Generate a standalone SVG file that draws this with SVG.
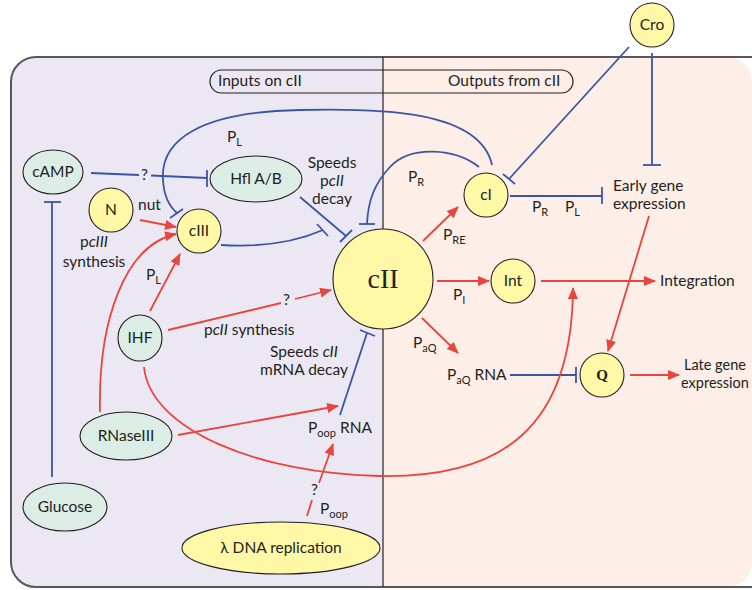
<svg xmlns="http://www.w3.org/2000/svg" width="752" height="590" viewBox="0 0 752 590">
<defs>
<marker id="ar" markerWidth="12" markerHeight="10" refX="11" refY="5" orient="auto" markerUnits="userSpaceOnUse">
<path d="M0,0 L12,5 L0,10 Z" fill="#E8453C"/>
</marker>
<style>
text{font-family:Lato,"Open Sans","Liberation Sans",sans-serif;font-size:15.5px;fill:#231f20}
.c{text-anchor:middle}
.sub{font-size:11px}
.red{stroke:#E8453C;stroke-width:1.8;fill:none}
.redA{stroke:#E8453C;stroke-width:1.8;fill:none;marker-end:url(#ar)}
.blue{stroke:#3A55A4;stroke-width:1.8;fill:none}
.yel{fill:#FFF8A6;stroke:#231f20;stroke-width:1.1}
.grn{fill:#DCEDE6;stroke:#231f20;stroke-width:1.1}
</style>
</defs>
<rect width="752" height="590" fill="#fff"/>
<g id="frame">
<path d="M383,57 H36 A25,25 0 0 0 11,82 V562 A25,25 0 0 0 36,587 H383 Z" fill="#ECE8F3"/>
<path d="M383,57 H727 A25,25 0 0 1 752,82 V562 A25,25 0 0 1 727,587 H383 Z" fill="#FDEEE8"/>
<rect x="11" y="57" width="766" height="530" rx="25" fill="none" stroke="#58585a" stroke-width="2"/>
<line x1="383" y1="57" x2="383" y2="587" stroke="#231f20" stroke-width="1.2"/>
<rect x="210" y="70" width="363" height="23" rx="11.5" fill="none" stroke="#231f20" stroke-width="1.2"/>
<text x="218" y="86">Inputs on cII</text>
<text x="448" y="86">Outputs from cII</text>
</g>
<g id="connectors">
<line class="blue" x1="629" y1="47" x2="509" y2="179"/>
<line class="blue" x1="503" y1="174" x2="515" y2="184"/>
<line class="blue" x1="652" y1="53" x2="652" y2="165"/>
<line class="blue" x1="643" y1="165" x2="661" y2="165"/>
<line class="blue" x1="510" y1="196" x2="602" y2="196"/>
<line class="blue" x1="602" y1="187" x2="602" y2="204"/>
<line class="blue" x1="52" y1="477" x2="52" y2="202"/>
<line class="blue" x1="44" y1="202" x2="61" y2="202"/>
<line class="blue" x1="91" y1="173" x2="139" y2="175"/>
<line class="blue" x1="151" y1="175.5" x2="207" y2="178"/>
<line class="blue" x1="207" y1="170" x2="207" y2="187"/>
<path class="blue" d="M492,165 C480,110 380,108 300,110 C200,112 160,140 163,180 C164,198 170,207 177,213"/>
<line class="blue" x1="170" y1="218" x2="183" y2="209"/>
<path class="blue" d="M221,245 C270,248 300,240 323,230"/>
<line class="blue" x1="317" y1="224" x2="328" y2="236"/>
<line class="blue" x1="300" y1="197" x2="346" y2="236"/>
<line class="blue" x1="340" y1="242" x2="352" y2="230"/>
<path class="blue" d="M479,167 C455,148 410,145 390,167 C375,183 368,200 367,224"/>
<line class="blue" x1="359" y1="224" x2="375" y2="224"/>
<line class="blue" x1="340" y1="415" x2="367" y2="333"/>
<line class="blue" x1="360" y1="330" x2="375" y2="336"/>
<line class="blue" x1="510" y1="375" x2="576" y2="375"/>
<line class="blue" x1="576" y1="367" x2="576" y2="383"/>
<line class="redA" x1="140" y1="220" x2="176" y2="227"/>
<path class="redA" d="M100,412 C98,320 125,245 176,234"/>
<line class="redA" x1="150" y1="311" x2="180" y2="254"/>
<line class="red" x1="168" y1="330" x2="281" y2="303"/>
<line class="redA" x1="295" y1="299" x2="331" y2="290"/>
<line class="redA" x1="178" y1="435" x2="338" y2="406"/>
<line class="red" x1="307" y1="516" x2="312" y2="500"/>
<line class="redA" x1="319" y1="483" x2="333" y2="444"/>
<path class="redA" d="M144,367 C150,430 260,474 380,476 C500,478 572,430 573,288"/>
<line class="redA" x1="423" y1="241" x2="458" y2="207"/>
<line class="redA" x1="437" y1="281" x2="489" y2="281"/>
<line class="redA" x1="422" y1="318" x2="458" y2="353"/>
<line class="redA" x1="541" y1="281" x2="655" y2="281"/>
<line class="redA" x1="649" y1="216" x2="608" y2="351"/>
<line class="redA" x1="630" y1="375" x2="679" y2="375"/>
</g>
<g id="labels">
<text x="141" y="180">?</text>
<text x="227" y="142">P<tspan class="sub" dy="4">L</tspan></text>
<text class="c" x="332" y="168">Speeds</text>
<text class="c" x="332" y="186">p<tspan font-style="italic">cII</tspan></text>
<text class="c" x="332" y="204">decay</text>
<text x="138" y="210">nut</text>
<text class="c" x="94" y="247">p<tspan font-style="italic">cIII</tspan></text>
<text class="c" x="94" y="267">synthesis</text>
<text x="146" y="280">P<tspan class="sub" dy="4">L</tspan></text>
<text x="283" y="305">?</text>
<text x="204" y="335">p<tspan font-style="italic">cII</tspan> synthesis</text>
<text class="c" x="304" y="357">Speeds <tspan font-style="italic">cII</tspan></text>
<text class="c" x="304" y="375">mRNA decay</text>
<text x="308" y="433">P<tspan class="sub" dy="4">oop</tspan><tspan dy="-4"> RNA</tspan></text>
<text x="311" y="495">?</text>
<text x="320" y="514">P<tspan class="sub" dy="4">oop</tspan></text>
<text x="408" y="182">P<tspan class="sub" dy="4">R</tspan></text>
<text x="443" y="240">P<tspan class="sub" dy="4">RE</tspan></text>
<text x="453" y="300">P<tspan class="sub" dy="4">I</tspan></text>
<text x="413" y="348">P<tspan class="sub" dy="4">aQ</tspan></text>
<text x="447" y="380">P<tspan class="sub" dy="4">aQ</tspan><tspan dy="-4"> RNA</tspan></text>
<text x="532" y="212">P<tspan class="sub" dy="4">R</tspan></text>
<text x="565" y="212">P<tspan class="sub" dy="4">L</tspan></text>
<text x="613" y="191">Early gene</text>
<text x="613" y="209">expression</text>
<text x="660" y="286">Integration</text>
<text x="684" y="370" style="font-size:14.5px">Late gene</text>
<text x="681" y="388" style="font-size:14.5px">expression</text>
</g>
<g id="Cro"><circle class="yel" cx="652" cy="25" r="22"/><text class="c" x="652" y="30">Cro</text></g>
<g id="cI"><circle class="yel" cx="486" cy="195" r="22"/><text class="c" x="486" y="200">cI</text></g>
<g id="cII"><circle class="yel" cx="383" cy="279" r="50"/><text class="c" x="383" y="288" style="font-family:'Liberation Serif',serif;font-size:28px">cII</text></g>
<g id="Int"><circle class="yel" cx="513" cy="281" r="22"/><text class="c" x="513" y="286">Int</text></g>
<g id="Q"><circle class="yel" cx="602" cy="375" r="22"/><text class="c" x="602" y="380" style="font-family:'Liberation Serif',serif;font-weight:bold;font-size:15px">Q</text></g>
<g id="cAMP"><ellipse class="grn" cx="53" cy="172" rx="30" ry="22"/><text class="c" x="53" y="177">cAMP</text></g>
<g id="HflAB"><ellipse class="grn" cx="256" cy="179" rx="46" ry="23"/><text class="c" x="256" y="184">Hfl A/B</text></g>
<g id="N"><circle class="yel" cx="111" cy="210" r="22"/><text class="c" x="111" y="215">N</text></g>
<g id="cIII"><circle class="yel" cx="199" cy="231" r="22"/><text class="c" x="199" y="236">cIII</text></g>
<g id="IHF"><ellipse class="grn" cx="140" cy="338" rx="22" ry="23"/><text class="c" x="140" y="343">IHF</text></g>
<g id="RNaseIII"><ellipse class="grn" cx="126" cy="436" rx="46" ry="24"/><text class="c" x="126" y="441">RNaseIII</text></g>
<g id="Glucose"><ellipse class="grn" cx="65" cy="507" rx="42" ry="24"/><text class="c" x="65" y="512">Glucose</text></g>
<g id="lambdaDNA"><ellipse class="yel" cx="281" cy="548" rx="99" ry="26"/><text class="c" x="281" y="553">λ DNA replication</text></g>
</svg>
